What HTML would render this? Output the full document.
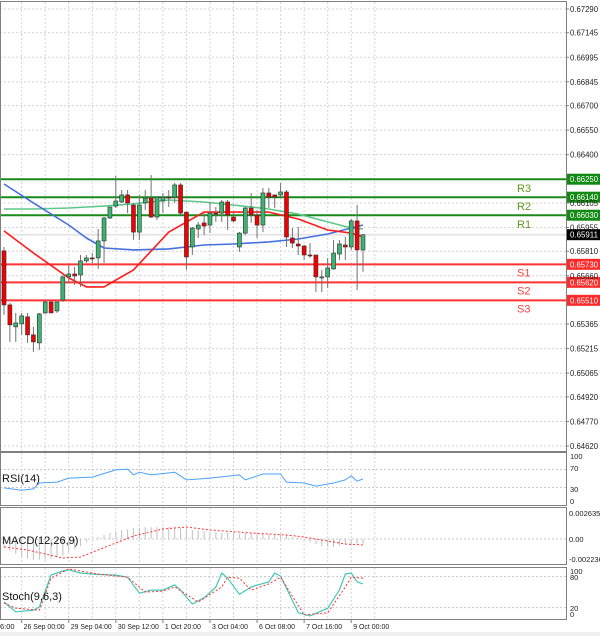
<!DOCTYPE html>
<html><head><meta charset="utf-8"><style>
html,body{margin:0;padding:0;background:#fff;}
svg{display:block;font-family:"Liberation Sans",sans-serif;}
</style></head><body>
<svg id="chart" width="600" height="636" viewBox="0 0 600 636" xmlns="http://www.w3.org/2000/svg">
<rect x="0" y="0" width="600" height="636" fill="#fff"/>
<rect x="0" y="632" width="600" height="4" fill="#f0f0f0"/>
<g id="grid"></g>
<g id="levels"></g>
<g id="mas"></g>
<g id="candles"></g>
<g id="ind"></g>
<g id="axes"></g>
</svg>
<script>
// ---------- data ----------
const opens  = [0.65812,0.65482,0.65348,0.65366,0.65409,0.65299,0.65250,0.65433,0.65500,0.65445,0.65512,0.65653,0.65671,0.65665,0.65751,0.65769,0.65769,0.65873,0.66013,0.66086,0.66111,0.66154,0.66092,0.65927,0.66105,0.66135,0.66019,0.66117,0.66141,0.66141,0.66215,0.66049,0.65836,0.65946,0.65983,0.65970,0.66043,0.66043,0.66111,0.66019,0.65836,0.65921,0.66074,0.66031,0.65970,0.66166,0.66154,0.66154,0.66172,0.65891,0.65854,0.65842,0.65787,0.65787,0.65647,0.65653,0.65702,0.65793,0.65848,0.65836,0.65995,0.65818];
const highs  = [0.65836,0.65494,0.65433,0.65433,0.65433,0.65348,0.65433,0.65506,0.65506,0.65500,0.65665,0.65726,0.65714,0.65787,0.65787,0.65799,0.65946,0.66019,0.66080,0.66270,0.66184,0.66184,0.66105,0.66154,0.66184,0.66276,0.66141,0.66166,0.66184,0.66227,0.66227,0.66049,0.65958,0.65989,0.66043,0.66111,0.66080,0.66123,0.66123,0.66043,0.65927,0.66080,0.66166,0.66062,0.66196,0.66196,0.66154,0.66227,0.66184,0.65952,0.65958,0.65848,0.65860,0.65787,0.65696,0.65769,0.65879,0.65879,0.65897,0.66007,0.66092,0.65903];
const lows   = [0.65421,0.65256,0.65256,0.65299,0.65250,0.65195,0.65207,0.65427,0.65433,0.65433,0.65500,0.65616,0.65604,0.65592,0.65738,0.65738,0.65702,0.65738,0.66007,0.66074,0.66105,0.66043,0.65879,0.65879,0.66062,0.66013,0.66001,0.66043,0.66080,0.66105,0.66031,0.65696,0.65787,0.65891,0.65909,0.65921,0.65989,0.65989,0.65940,0.65989,0.65806,0.65909,0.65983,0.65891,0.65927,0.66074,0.66074,0.66141,0.65836,0.65830,0.65787,0.65757,0.65769,0.65561,0.65561,0.65586,0.65696,0.65757,0.65757,0.65818,0.65573,0.65684];
const closes = [0.65482,0.65360,0.65372,0.65415,0.65299,0.65256,0.65427,0.65500,0.65433,0.65500,0.65653,0.65671,0.65659,0.65751,0.65769,0.65765,0.65873,0.66013,0.66080,0.66117,0.66154,0.66105,0.65927,0.66092,0.66135,0.66019,0.66141,0.66141,0.66135,0.66215,0.66043,0.65775,0.65952,0.65970,0.65964,0.66043,0.66037,0.66111,0.66031,0.65995,0.65921,0.66074,0.66031,0.65970,0.66166,0.66141,0.66141,0.66172,0.65897,0.65860,0.65842,0.65787,0.65781,0.65653,0.65653,0.65708,0.65799,0.65854,0.65836,0.65995,0.65818,0.65911];
const maIdx   = [0,5,11,14,17,22,28,34,39,45,50,55,59,61];
const maBlue  = [0.66221,0.66105,0.65970,0.65891,0.65830,0.65818,0.65824,0.65848,0.65854,0.65867,0.65885,0.65915,0.65952,0.65970];
const maRed   = [0.65934,0.65799,0.65647,0.65592,0.65592,0.65696,0.65927,0.66049,0.66049,0.66049,0.66007,0.65940,0.65921,0.65897];
const maGreen = [0.66068,0.66068,0.66074,0.66080,0.66086,0.66099,0.66123,0.66111,0.66092,0.66068,0.66037,0.65989,0.65952,0.65946];
const levelNames  = ["R3","R2","R1","S1","S2","S3"];
const levelValues = [0.66250,0.66140,0.66030,0.65730,0.65620,0.65510];
const lastPrice = 0.65911;
const priceTicks = [0.67290,0.67145,0.66995,0.66845,0.66700,0.66550,0.66400,0.66105,0.65955,0.65810,0.65660,0.65365,0.65215,0.65065,0.64920,0.64770,0.64620];
const rsiIdx = [0,3,5,6,9,11,15,19,21,22,23,25,29,31,35,40,41,44,47,48,51,53,56,58,59,60,61];
const rsiVal = [29,24,27,40,42,51,53,69,71,58,64,58,64,47,51,58,47,60,60,42,40,33,40,47,56,44,49];
const macdHist = [-0.0009,-0.0012,-0.0015,-0.0018,-0.0020,-0.0021,-0.0021,-0.0021,-0.0020,-0.0019,-0.0017,-0.0013,-0.0010,-0.0007,-0.0003,0.0000,0.0002,0.0004,0.0006,0.0008,0.0009,0.0010,0.0011,0.0011,0.0012,0.0012,0.0012,0.0012,0.0012,0.0011,0.0011,0.0010,0.0009,0.0008,0.0008,0.0007,0.0007,0.0006,0.0006,0.0006,0.0005,0.0006,0.0006,0.0006,0.0006,0.0005,0.0005,0.0005,0.0004,0.0002,0.0001,-0.0001,-0.0003,-0.0005,-0.0007,-0.0008,-0.0008,-0.0007,-0.0006,-0.0006,-0.0005,-0.0005];
const sigIdx = [0,4,10,13,19,22,27,31,35,42,48,51,55,58,61];
const sigVal = [-0.00081,-0.00111,-0.00193,-0.00182,-0.00041,0.00030,0.00101,0.00122,0.00091,0.00061,0.00041,0.00020,-0.00020,-0.00051,-0.00061];
const kIdx = [0,2,5,6,8,10,11,13,15,19,21,23,25,27,29,30,32,34,36,37,38,40,42,45,46,47,50,52,55,57,58,59,60,61];
const kVal = [31,12,15,21,83,91,93,87,85,83,79,48,54,54,64,54,27,39,60,87,77,46,60,70,87,81,10,4,19,54,85,87,70,66];
const dIdx = [0,2,6,8,11,16,21,24,27,29,33,37,38,40,42,45,47,51,55,58,59,61];
const dVal = [29,19,15,77,95,85,79,50,52,60,31,60,79,77,54,66,79,6,10,60,79,77];
const timeLabels = ["26 Sep 00:00","29 Sep 04:00","30 Sep 12:00","1 Oct 20:00","3 Oct 04:00","6 Oct 08:00","7 Oct 16:00","9 Oct 00:00"];
const timeIdx = [3,11,19,27,35,43,51,59];

// ---------- axes ----------
const NS="http://www.w3.org/2000/svg";
const cx = i => 4 + i*5.885;
const py = p => 9 + (0.6729 - p)*16367;
const ry = v => 501 - v*0.45;
const my = v => 539 - v*9867;
const sy = v => 618 - v*0.517;
function mk(tag, attrs, parent){const e=document.createElementNS(NS,tag);for(const k in attrs)e.setAttribute(k,attrs[k]);parent.appendChild(e);return e;}
const G=document.getElementById('grid'),L=document.getElementById('levels'),M=document.getElementById('mas'),C=document.getElementById('candles'),I=document.getElementById('ind'),A=document.getElementById('axes');

for(let k=-1;k<17;k++){const x=cx(4*k-1);if(x<0||x>566)continue;
  [[2,451],[453,505],[508,564],[568,619]].forEach(r=>{const l=mk('line',{x1:x,x2:x,y1:r[0],y2:r[1],stroke:'#d4d4d4','stroke-dasharray':'2,2'},G);
  
  });}
priceTicks.forEach(p=>{const y=py(p);const l=mk('line',{x1:0,x2:566,y1:y,y2:y,stroke:'#d4d4d4','stroke-dasharray':'2,2'},G);
  
  });
[[ry(70)],[ry(30)],[my(0)],[sy(80)],[sy(20)]].forEach(a=>{const l=mk('line',{x1:0,x2:566,y1:a[0],y2:a[0],stroke:'#c8c8c8','stroke-dasharray':'2,2'},G);
  
  });

{const l=mk('line',{x1:0,x2:566,y1:py(lastPrice),y2:py(lastPrice),stroke:'#e6e6e6','stroke-width':2},L);

}
levelNames.forEach((n,i)=>{const y=py(levelValues[i]);const isR=n[0]==='R';
  const col=isR?'#1a8a1a':'#ff3333';
  const l=mk('line',{x1:0,x2:566,y1:y,y2:y,stroke:col,'stroke-width':2},L);
  
  
  const t=mk('text',{x:517,y:y+(isR?13:12),'font-size':11,fill:isR?'#5c9a1c':'#ff4040'},L);t.textContent=n;
  
  
  const r=mk('rect',{x:567,y:y-5.5,width:33,height:11,fill:isR?'#138a13':'#ff2a2a'},A);
  
  
  const tt=mk('text',{x:570,y:y+3,'font-size':8,fill:'#fff',textLength:28,lengthAdjust:'spacingAndGlyphs'},A);tt.textContent=levelValues[i].toFixed(5);
  
  
});

function poly(idx,vals,fy,attrs,parent,name){const pts=idx.map((ix,j)=>cx(ix).toFixed(1)+','+fy(vals[j]).toFixed(1)).join(' ');
  const p=mk('polyline',Object.assign({points:pts,fill:'none','stroke-linejoin':'round'},attrs),parent);
  
  return p;}
poly(maIdx,maGreen,py,{stroke:'#5cc88a','stroke-width':1.6},M,'ma-green');
poly(maIdx,maBlue,py,{stroke:'#4470e0','stroke-width':1.6},M,'ma-blue');
poly(maIdx,maRed,py,{stroke:'#ff1a1a','stroke-width':1.6},M,'ma-red');

closes.forEach((c,i)=>{const o=opens[i],x=cx(i);const up=c>=o;
  const w=mk('line',{x1:x,x2:x,y1:py(highs[i]),y2:py(lows[i]),stroke:'#707070','stroke-width':1},C);
  
  
  const top=py(Math.max(o,c)),h=Math.max(1,Math.abs(py(o)-py(c)));
  const b=mk('rect',{x:x-2,y:top,width:4,height:h,fill:up?'#3cb371':'#f00000',stroke:'#303030','stroke-width':0.6},C);
  
  
});

poly(rsiIdx,rsiVal,ry,{stroke:'#4da3ff','stroke-width':1},I,'rsi-line');
macdHist.forEach((v,i)=>{const x=cx(i);const l=mk('line',{x1:x,x2:x,y1:my(0),y2:my(v),stroke:'#c0c0c0','stroke-width':1},I);
  
  });
poly(sigIdx,sigVal,my,{stroke:'#ff3030','stroke-width':1,'stroke-dasharray':'2,2'},I,'macd-signal-line');
poly(kIdx,kVal,sy,{stroke:'#40c8b8','stroke-width':1.2},I,'stoch-k-line');
poly(dIdx,dVal,sy,{stroke:'#ff3030','stroke-width':1,'stroke-dasharray':'2,2'},I,'stoch-d-line');

[[0,1,566,450],[0,452,566,53],[0,507,566,57],[0,567,566,52]].forEach((r,j)=>{const e=mk('rect',{x:r[0]+0.5,y:r[1]+0.5,width:r[2],height:r[3],fill:'none',stroke:'#808080','stroke-width':1},A);
  
  });
priceTicks.forEach(p=>{const y=py(p);const t=mk('text',{x:570,y:y+3,'font-size':8,fill:'#222',textLength:28,lengthAdjust:'spacingAndGlyphs'},A);t.textContent=p.toFixed(5);
  
  
  const tk=mk('line',{x1:566,x2:569,y1:y,y2:y,stroke:'#808080'},A);
  
  });
{const y=py(lastPrice);const r=mk('rect',{x:567,y:y-5.5,width:33,height:11,fill:'#000'},A);
 
 
 const t=mk('text',{x:570,y:y+3,'font-size':8,fill:'#fff',textLength:28,lengthAdjust:'spacingAndGlyphs'},A);t.textContent=lastPrice.toFixed(5);
 
 }
[[100,456],[70,468],[30,489],[0,501]].forEach(a=>{const t=mk('text',{x:570,y:a[1]+3,'font-size':7.5,fill:'#222'},A);t.textContent=a[0];
  
  });
[["0.002635",513],["0.00",539],["-0.002236",559]].forEach(a=>{const t=mk('text',{x:569,y:a[1]+3,'font-size':7.5,fill:'#222'},A);t.textContent=a[0];
  
  });
[[100,571],[80,577],[20,608],[0,614]].forEach(a=>{const t=mk('text',{x:570,y:a[1]+3,'font-size':7.5,fill:'#222'},A);t.textContent=a[0];
  
  });
[["RSI(14)",482,'rsi-title'],["MACD(12,26,9)",544,'macd-title'],["Stoch(9,6,3)",600,'stoch-title']].forEach(a=>{const t=mk('text',{x:2,y:a[1],'font-size':11,fill:'#111'},A);t.textContent=a[0];
  
  });
timeLabels.forEach((s,j)=>{const x=cx(timeIdx[j]);
  const tk=mk('line',{x1:x,x2:x,y1:619,y2:623,stroke:'#808080'},A);
  
  
  const t=mk('text',{x:x+2,y:629,'font-size':7.5,fill:'#222',textLength:s.length>11?41:36,lengthAdjust:'spacingAndGlyphs'},A);t.textContent=s;
  
  });
{const t=mk('text',{x:0,y:629,'font-size':7.5,fill:'#222'},A);t.textContent="6:00";
 
 }
</script>
</body></html>
